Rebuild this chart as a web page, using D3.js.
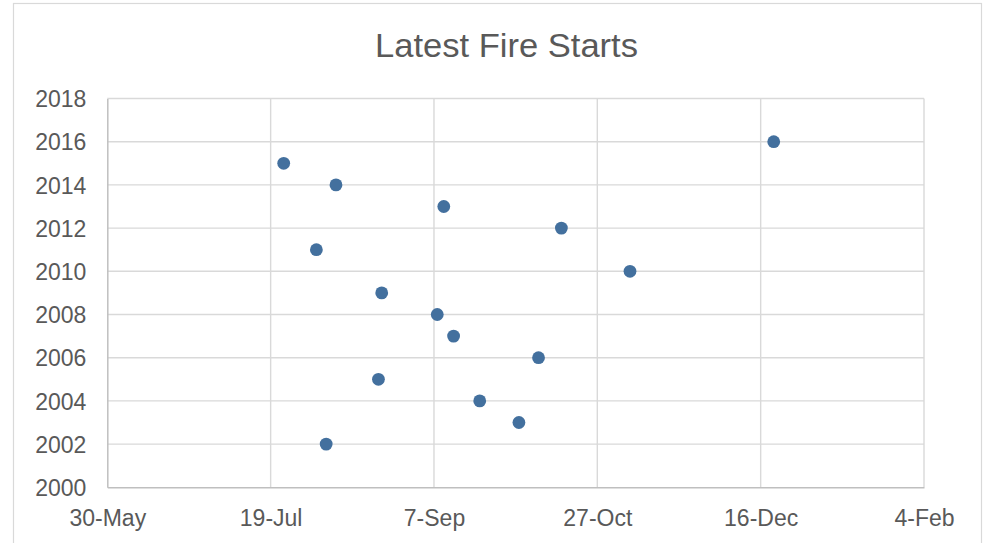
<!DOCTYPE html>
<html>
<head>
<meta charset="utf-8">
<script src="https://cdn.jsdelivr.net/npm/d3@7/dist/d3.min.js"></script>
<style>
  html, body { margin: 0; padding: 0; background: #fff; }
  svg { display: block; }
  text { font-family: "Liberation Sans", Arial, sans-serif; fill: #595959; }
</style>
</head>
<body>
<svg id="chart" width="991" height="543"></svg>
<script>
// ---- data ----
const chartTitle = "Latest Fire Starts";
const fireYears = [2016, 2015, 2014, 2013, 2012, 2011, 2010, 2009, 2008, 2007, 2006, 2005, 2004, 2003, 2002];
const latestStart = ["Dec-20", "Jul-23", "Aug-08", "Sep-10", "Oct-16", "Aug-02", "Nov-06", "Aug-22", "Sep-08", "Sep-13", "Oct-09", "Aug-21", "Sep-21", "Oct-03", "Aug-05"];
const xTickLabels = ["30-May", "19-Jul", "7-Sep", "27-Oct", "16-Dec", "4-Feb"];
const yTicks = [2000, 2002, 2004, 2006, 2008, 2010, 2012, 2014, 2016, 2018];

// season runs from late May into the next February; map month-day to a season date
const parseMD = d3.utcParse("%Y-%b-%d");
const parseTick = d3.utcParse("%Y-%d-%b");
function seasonDate(str, parser) {
  let d = parser("2001-" + str);
  if (d.getUTCMonth() < 4) d = parser("2002-" + str);
  return d;
}
const points = fireYears.map((y, i) => ({ year: y, date: seasonDate(latestStart[i], parseMD) }));
const tickDates = xTickLabels.map(t => seasonDate(t, parseTick));

// ---- layout ----
const svg = d3.select("#chart");
const plot = { left: 107.3, right: 924, top: 98.5, bottom: 487.3 };

// chart area border
svg.append("rect")
  .attr("x", 13.5).attr("y", 3.5)
  .attr("width", 968).attr("height", 560)
  .attr("fill", "#fff").attr("stroke", "#d9d9d9").attr("stroke-width", 1.2);

const x = d3.scaleUtc()
  .domain([tickDates[0], tickDates[tickDates.length - 1]])
  .range([plot.left, plot.right]);
const y = d3.scaleLinear()
  .domain([yTicks[0], yTicks[yTicks.length - 1]])
  .range([plot.bottom, plot.top]);

// gridlines
const grid = svg.append("g");
grid.selectAll("line.h").data(yTicks.slice(1)).join("line")
  .attr("x1", plot.left).attr("x2", plot.right)
  .attr("y1", d => y(d)).attr("y2", d => y(d))
  .attr("stroke", "#d9d9d9").attr("stroke-width", 1.4);
grid.selectAll("line.v").data(tickDates.slice(1)).join("line")
  .attr("x1", d => x(d)).attr("x2", d => x(d))
  .attr("y1", plot.top).attr("y2", plot.bottom)
  .attr("stroke", "#d9d9d9").attr("stroke-width", 1.4);

// axes
const fmt = d3.utcFormat("%-d-%b");
const xAxis = svg.append("g")
  .attr("transform", `translate(0,${plot.bottom})`)
  .call(d3.axisBottom(x).tickValues(tickDates).tickFormat(fmt).tickSize(0).tickPadding(0));
xAxis.select(".domain").attr("stroke", "#bfbfbf").attr("stroke-width", 1.5);
xAxis.selectAll("text")
  .attr("y", 38.5).attr("dy", null)
  .style("font-size", "23px").attr("fill", "#595959");

const yAxis = svg.append("g")
  .attr("transform", `translate(${plot.left},0)`)
  .call(d3.axisLeft(y).tickValues(yTicks).tickFormat(d3.format("d")).tickSize(0).tickPadding(21));
yAxis.select(".domain").attr("stroke", "#bfbfbf").attr("stroke-width", 1.5);
yAxis.selectAll("text")
  .attr("dy", "0.36em")
  .style("font-size", "23px").attr("fill", "#595959");

// markers
svg.append("g").selectAll("circle").data(points).join("circle")
  .attr("cx", d => x(d.date))
  .attr("cy", d => y(d.year))
  .attr("r", 6.4)
  .attr("fill", "#43709e");

// title
svg.append("text")
  .attr("x", 506.5).attr("y", 56.5)
  .attr("text-anchor", "middle")
  .style("font-size", "33px")
  .attr("textLength", 263)
  .attr("lengthAdjust", "spacingAndGlyphs")
  .text(chartTitle);
</script>
</body>
</html>
